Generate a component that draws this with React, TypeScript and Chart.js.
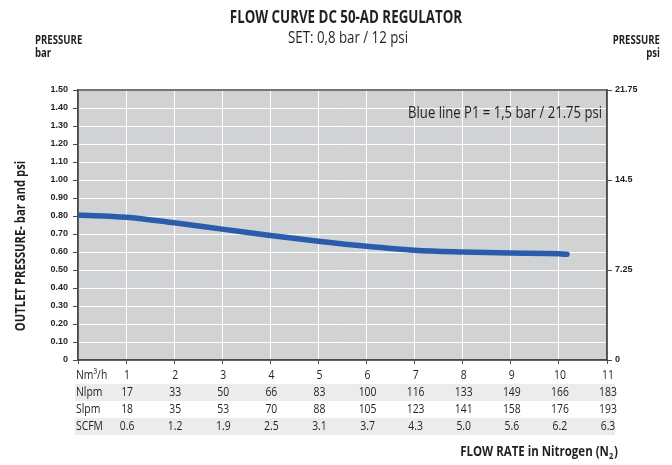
import React, { useEffect, useRef } from "react";
import { Chart, registerables } from "chart.js";

Chart.register(...registerables);

// ---- data ----
const flowNm3h = [0, 1, 2, 3, 4, 5, 6, 7, 8, 9, 10, 10.17];
const outletBar = [0.805, 0.793, 0.762, 0.727, 0.692, 0.66, 0.632, 0.61, 0.6, 0.594, 0.59, 0.587];

const nm3hRow = ["1", "2", "3", "4", "5", "6", "7", "8", "9", "10", "11"];
const nlpmRow = ["17", "33", "50", "66", "83", "100", "116", "133", "149", "166", "183"];
const slpmRow = ["18", "35", "53", "70", "88", "105", "123", "141", "158", "176", "193"];
const scfmRow = ["0.6", "1.2", "1.9", "2.5", "3.1", "3.7", "4.3", "5.0", "5.6", "6.2", "6.3"];
const rowLabels = ["Nm³/h", "Nlpm", "Slpm", "SCFM"];

const barMax = 1.5;
const barStep = 0.1;
const psiMax = 21.75;
const psiStep = 7.25;

const TITLE = "FLOW CURVE DC 50-AD REGULATOR";
const SUBTITLE = "SET: 0,8 bar / 12 psi";
const NOTE = "Blue line P1 = 1,5 bar / 21.75 psi";
const Y_TITLE = "OUTLET PRESSURE- bar and psi";

const LINE_COLOR = "#2b5cab";
const PLOT_BG = "#d1d2d4";
const AXIS_COLOR = "#4a4a4a";
const TEXT_COLOR = "#231f20";
const SANS = "'Open Sans', 'Noto Sans', sans-serif";

function drawText(
  ctx: CanvasRenderingContext2D,
  str: string,
  x: number,
  y: number,
  font: string,
  align: "left" | "center" | "right",
  sx: number
) {
  ctx.save();
  ctx.font = font;
  ctx.fillStyle = TEXT_COLOR;
  ctx.textBaseline = "middle";
  ctx.textAlign = "left";
  const w = ctx.measureText(str).width * sx;
  let left = x;
  if (align === "center") left = x - w / 2;
  if (align === "right") left = x - w;
  ctx.translate(left, y);
  ctx.scale(sx, 1);
  ctx.fillText(str, 0, 0);
  ctx.restore();
  return w;
}

const decorPlugin = {
  id: "decor",
  beforeDraw(chart: any) {
    const { ctx, chartArea } = chart;
    const xs = chart.scales.x;
    ctx.save();
    ctx.fillStyle = "#ffffff";
    ctx.fillRect(0, 0, chart.width, chart.height);
    ctx.fillStyle = PLOT_BG;
    ctx.fillRect(chartArea.left, chartArea.top, chartArea.right - chartArea.left, chartArea.bottom - chartArea.top);
    // table row shading
    ctx.fillStyle = "#ececec";
    const x0 = xs.getPixelForValue(0) - 3;
    const x1 = xs.getPixelForValue(11) + 8;
    ctx.fillRect(x0, chartArea.bottom + 24, x1 - x0, 17);
    ctx.fillRect(x0, chartArea.bottom + 58, x1 - x0, 17);
    ctx.restore();
  },
  beforeDatasetsDraw(chart: any) {
    const { ctx, chartArea } = chart;
    ctx.save();
    ctx.strokeStyle = AXIS_COLOR;
    ctx.lineWidth = 1.5;
    ctx.strokeRect(chartArea.left, chartArea.top, chartArea.right - chartArea.left, chartArea.bottom - chartArea.top);
    ctx.restore();
  },
  afterDraw(chart: any) {
    const { ctx, chartArea } = chart;
    const xs = chart.scales.x;
    // titles
    drawText(ctx, TITLE, 346, 18, `bold 18px ${SANS}`, "center", 0.74);
    drawText(ctx, SUBTITLE, 348, 38, `17px ${SANS}`, "center", 0.78);
    drawText(ctx, "PRESSURE", 35, 41, `bold 12px ${SANS}`, "left", 0.8);
    drawText(ctx, "bar", 35, 54, `bold 12px ${SANS}`, "left", 0.8);
    drawText(ctx, "PRESSURE", 660, 41, `bold 12px ${SANS}`, "right", 0.8);
    drawText(ctx, "psi", 660, 54, `bold 12px ${SANS}`, "right", 0.8);
    drawText(ctx, NOTE, chartArea.right - 5, chartArea.top + 23, `17px ${SANS}`, "right", 0.77);

    // y-axis title (rotated)
    ctx.save();
    ctx.translate(21, 246);
    ctx.rotate(-Math.PI / 2);
    drawText(ctx, Y_TITLE, 0, 0, `bold 15px ${SANS}`, "center", 0.75);
    ctx.restore();

    // table
    const rows = [nm3hRow, nlpmRow, slpmRow, scfmRow];
    const font = `13px ${SANS}`;
    rows.forEach((row, r) => {
      const y = chartArea.bottom + 15 + r * 17;
      drawText(ctx, rowLabels[r], xs.getPixelForValue(0) - 2, y, font, "left", 0.8);
      row.forEach((v, i) => {
        drawText(ctx, v, xs.getPixelForValue(i + 1) + 1, y, font, "center", 0.8);
      });
    });

    // x title with subscript
    const fb = `bold 14px ${SANS}`;
    const fs = `bold 9px ${SANS}`;
    const y = 452;
    const right = 618;
    const sx = 0.82;
    ctx.save();
    ctx.font = fb;
    const wMain = ctx.measureText("FLOW RATE in Nitrogen (N").width * sx;
    const wEnd = ctx.measureText(")").width * sx;
    ctx.font = fs;
    const wSub = ctx.measureText("2").width * sx;
    ctx.restore();
    const start = right - wMain - wSub - wEnd - 1;
    drawText(ctx, "FLOW RATE in Nitrogen (N", start, y, fb, "left", sx);
    drawText(ctx, "2", start + wMain, y + 4, fs, "left", sx);
    drawText(ctx, ")", start + wMain + wSub + 1, y, fb, "left", sx);
  },
};

export default function App() {
  const ref = useRef<HTMLCanvasElement | null>(null);

  useEffect(() => {
    if (!ref.current) return;
    const chart = new Chart(ref.current, {
      type: "line",
      data: {
        datasets: [
          {
            data: flowNm3h.map((x, i) => ({ x, y: outletBar[i] })),
            borderColor: LINE_COLOR,
            borderWidth: 5.5,
            borderCapStyle: "round",
            pointRadius: 0,
            tension: 0.4,
            cubicInterpolationMode: "monotone",
            yAxisID: "y",
            xAxisID: "x",
            fill: false,
          } as any,
        ],
      },
      options: {
        animation: false,
        responsive: false,
        maintainAspectRatio: false,
        layout: { padding: { top: 90, left: 0, right: 0, bottom: 0 } },
        plugins: { legend: { display: false }, tooltip: { enabled: false }, title: { display: false } },
        scales: {
          x: {
            type: "linear",
            min: 0,
            max: 11,
            position: "bottom",
            ticks: { stepSize: 1, display: false },
            grid: { color: "#ffffff", lineWidth: 1, tickColor: AXIS_COLOR, tickLength: 4, drawTicks: true },
            border: { display: true, color: AXIS_COLOR, width: 1.5 },
            afterFit: (s: any) => {
              s.height = 105;
            },
          },
          y: {
            type: "linear",
            position: "left",
            min: 0,
            max: barMax,
            ticks: {
              stepSize: barStep,
              padding: 5,
              color: TEXT_COLOR,
              font: { family: "'Liberation Sans', Arial, sans-serif", size: 9, weight: "bold" },
              callback: (v: any) => (Math.abs(v) < 1e-9 ? "0" : Number(v).toFixed(2)),
            },
            grid: { color: "#ffffff", lineWidth: 1, tickColor: AXIS_COLOR, tickLength: 5 },
            border: { display: true, color: AXIS_COLOR, width: 1.5 },
            afterFit: (s: any) => {
              s.width = 78;
            },
          },
          y2: {
            type: "linear",
            position: "right",
            min: 0,
            max: psiMax,
            ticks: {
              stepSize: psiStep,
              padding: 3,
              color: TEXT_COLOR,
              font: { family: "'Liberation Sans', Arial, sans-serif", size: 9, weight: "bold" },
              callback: (v: any) => (Math.abs(v) < 1e-9 ? "0" : String(v)),
            },
            grid: { drawOnChartArea: false, tickColor: AXIS_COLOR, tickLength: 5 },
            border: { display: true, color: AXIS_COLOR, width: 1.5 },
            afterFit: (s: any) => {
              s.width = 65;
            },
          },
        },
      } as any,
      plugins: [decorPlugin],
    });
    return () => chart.destroy();
  }, []);

  return (
    <div style={{ position: "fixed", left: 0, top: 0, width: 672, height: 465, background: "#fff" }}>
      <canvas ref={ref} width={672} height={465} style={{ width: 672, height: 465, display: "block" }} />
    </div>
  );
}
